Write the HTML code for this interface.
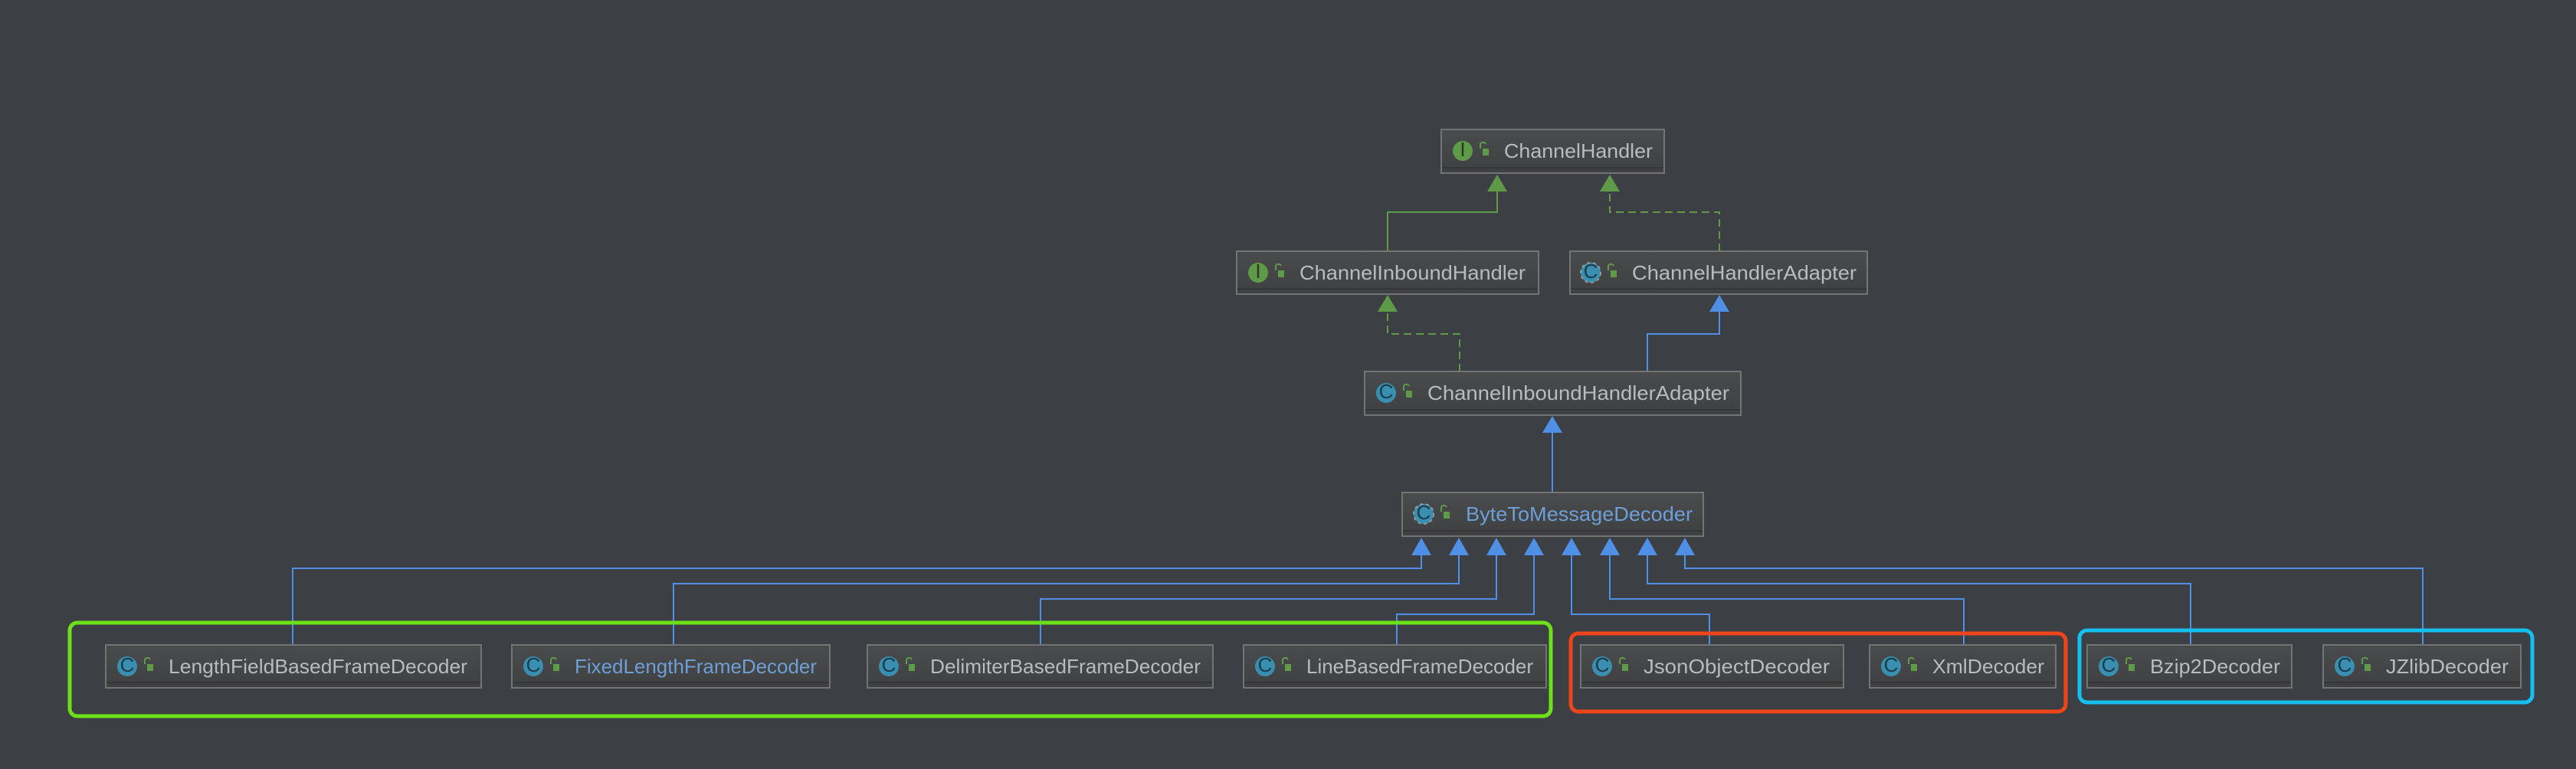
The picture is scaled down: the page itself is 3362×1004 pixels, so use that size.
<!DOCTYPE html>
<html><head><meta charset="utf-8"><style>
html,body{margin:0;padding:0;background:#3c3f43;}
svg{display:block}
text{font-family:"Liberation Sans",sans-serif;font-size:26px;}
</style></head><body>
<svg width="3362" height="1004" viewBox="0 0 3362 1004" xmlns="http://www.w3.org/2000/svg">
<defs>
<linearGradient id="bg" x1="0" y1="0" x2="0" y2="1">
<stop offset="0" stop-color="#4a4b4d"/><stop offset="1" stop-color="#3f4042"/>
</linearGradient>
</defs>
<rect width="3362" height="1004" fill="#3c3f43"/>

<!-- connectors green -->
<g fill="none" stroke="#5e9a48" stroke-width="2">
<polyline points="1811,328 1811,277 1954,277 1954,248"/>
<polyline points="2244,328 2244,277 2101,277 2101,248" stroke-dasharray="10,6"/>
<polyline points="1905,485 1905,436 1811,436 1811,406" stroke-dasharray="10,6"/>
</g>
<g fill="#5e9a48">
<polygon points="1954,228 1941,250 1967,250"/>
<polygon points="2101,228 2088,250 2114,250"/>
<polygon points="1811,385 1798,407 1824,407"/>
</g>
<!-- blue connectors -->
<g fill="none" stroke="#4f8fe6" stroke-width="2">
<polyline points="2150,485 2150,436 2244,436 2244,406"/>
<polyline points="2026,643 2026,564"/>
<polyline points="382,842 382,742 1855,742 1855,724"/>
<polyline points="879,842 879,762 1904,762 1904,724"/>
<polyline points="1358,842 1358,782 1953,782 1953,724"/>
<polyline points="1823,842 1823,802 2002,802 2002,724"/>
<polyline points="2231,842 2231,802 2051,802 2051,724"/>
<polyline points="2563,842 2563,782 2101,782 2101,724"/>
<polyline points="2859,842 2859,762 2150,762 2150,724"/>
<polyline points="3162,842 3162,742 2199,742 2199,724"/>
</g>
<g fill="#4f8fe6">
<polygon points="2244,385 2231,407 2257,407"/>
<polygon points="2026,543 2013,565 2039,565"/>
<polygon points="1855,702 1842,725 1868,725"/>
<polygon points="1904,702 1891,725 1917,725"/>
<polygon points="1953,702 1940,725 1966,725"/>
<polygon points="2002,702 1989,725 2015,725"/>
<polygon points="2051,702 2038,725 2064,725"/>
<polygon points="2101,702 2088,725 2114,725"/>
<polygon points="2150,702 2137,725 2163,725"/>
<polygon points="2199,702 2186,725 2212,725"/>
</g>

<!-- group outlines -->
<rect x="91" y="813" width="1933" height="122" rx="10" fill="none" stroke="#6ce01a" stroke-width="5"/>
<rect x="2050" y="827" width="646" height="102" rx="10" fill="none" stroke="#f0441a" stroke-width="5"/>
<rect x="2714" y="823" width="591" height="94" rx="10" fill="none" stroke="#15c0f0" stroke-width="5"/>

<!-- boxes -->
<g id="boxes">
<!-- helper pattern repeated -->
<g>
<rect x="1881" y="169" width="291" height="57" fill="url(#bg)" stroke="#747474" stroke-width="2"/>
<line x1="1882" y1="219" x2="2171" y2="219" stroke="#353638" stroke-width="2"/>
<circle cx="1909" cy="197" r="13" fill="#5e9a48"/><text x="1909" y="204" text-anchor="middle" font-size="18" fill="#2b3a22" font-family="Liberation Serif">I</text>
<rect x="1935" y="194" width="8" height="9" fill="#5e9a48"/><path d="M1932,194 v-6 a4,4 0 0 1 7,0" stroke="#5e9a48" stroke-width="2" fill="none"/>
<text x="1963" y="206" fill="#bbbbbb" textLength="194" lengthAdjust="spacingAndGlyphs">ChannelHandler</text>
</g>
<g>
<rect x="1614" y="328" width="394" height="56" fill="url(#bg)" stroke="#747474" stroke-width="2"/>
<line x1="1615" y1="377" x2="2007" y2="377" stroke="#353638" stroke-width="2"/>
<circle cx="1642" cy="356" r="13" fill="#5e9a48"/><text x="1642" y="363" text-anchor="middle" font-size="18" fill="#2b3a22" font-family="Liberation Serif">I</text>
<rect x="1668" y="353" width="8" height="9" fill="#5e9a48"/><path d="M1665,353 v-6 a4,4 0 0 1 7,0" stroke="#5e9a48" stroke-width="2" fill="none"/>
<text x="1696" y="365" fill="#bbbbbb" textLength="295" lengthAdjust="spacingAndGlyphs">ChannelInboundHandler</text>
</g>
<g>
<rect x="2049" y="328" width="388" height="56" fill="url(#bg)" stroke="#747474" stroke-width="2"/>
<line x1="2050" y1="377" x2="2436" y2="377" stroke="#353638" stroke-width="2"/>
<circle cx="2076" cy="356" r="13" fill="#3a8fb0" stroke="#999" stroke-width="2" stroke-dasharray="4,4"/><text x="2076" y="363" text-anchor="middle" font-size="18" fill="#1b3b4a">C</text>
<rect x="2102" y="353" width="8" height="9" fill="#5e9a48"/><path d="M2099,353 v-6 a4,4 0 0 1 7,0" stroke="#5e9a48" stroke-width="2" fill="none"/>
<text x="2130" y="365" fill="#bbbbbb" textLength="293" lengthAdjust="spacingAndGlyphs">ChannelHandlerAdapter</text>
</g>
<g>
<rect x="1781" y="485" width="491" height="57" fill="url(#bg)" stroke="#747474" stroke-width="2"/>
<line x1="1782" y1="535" x2="2271" y2="535" stroke="#353638" stroke-width="2"/>
<circle cx="1809" cy="513" r="13" fill="#3a8fb0"/><text x="1809" y="520" text-anchor="middle" font-size="18" fill="#1b3b4a">C</text>
<rect x="1835" y="510" width="8" height="9" fill="#5e9a48"/><path d="M1832,510 v-6 a4,4 0 0 1 7,0" stroke="#5e9a48" stroke-width="2" fill="none"/>
<text x="1863" y="522" fill="#bbbbbb" textLength="394" lengthAdjust="spacingAndGlyphs">ChannelInboundHandlerAdapter</text>
</g>
<g>
<rect x="1830" y="643" width="393" height="57" fill="url(#bg)" stroke="#747474" stroke-width="2"/>
<line x1="1831" y1="693" x2="2222" y2="693" stroke="#353638" stroke-width="2"/>
<circle cx="1858" cy="671" r="13" fill="#3a8fb0" stroke="#999" stroke-width="2" stroke-dasharray="4,4"/><text x="1858" y="678" text-anchor="middle" font-size="18" fill="#1b3b4a">C</text>
<rect x="1884" y="668" width="8" height="9" fill="#5e9a48"/><path d="M1881,668 v-6 a4,4 0 0 1 7,0" stroke="#5e9a48" stroke-width="2" fill="none"/>
<text x="1913" y="680" fill="#6d9fd6" textLength="296" lengthAdjust="spacingAndGlyphs">ByteToMessageDecoder</text>
</g>
</g>

<!-- bottom row -->
<g>
<rect x="138" y="842" width="490" height="56" fill="url(#bg)" stroke="#747474" stroke-width="2"/><line x1="139" y1="891" x2="627" y2="891" stroke="#353638" stroke-width="2"/>
<circle cx="166" cy="870" r="13" fill="#3a8fb0"/><text x="166" y="877" text-anchor="middle" font-size="18" fill="#1b3b4a">C</text>
<rect x="192" y="867" width="8" height="9" fill="#5e9a48"/><path d="M189,867 v-6 a4,4 0 0 1 7,0" stroke="#5e9a48" stroke-width="2" fill="none"/>
<text x="220" y="879" fill="#bbbbbb" textLength="390" lengthAdjust="spacingAndGlyphs">LengthFieldBasedFrameDecoder</text>

<rect x="668" y="842" width="415" height="56" fill="url(#bg)" stroke="#747474" stroke-width="2"/><line x1="669" y1="891" x2="1082" y2="891" stroke="#353638" stroke-width="2"/>
<circle cx="696" cy="870" r="13" fill="#3a8fb0"/><text x="696" y="877" text-anchor="middle" font-size="18" fill="#1b3b4a">C</text>
<rect x="722" y="867" width="8" height="9" fill="#5e9a48"/><path d="M719,867 v-6 a4,4 0 0 1 7,0" stroke="#5e9a48" stroke-width="2" fill="none"/>
<text x="750" y="879" fill="#6d9fd6" textLength="316" lengthAdjust="spacingAndGlyphs">FixedLengthFrameDecoder</text>

<rect x="1132" y="842" width="451" height="56" fill="url(#bg)" stroke="#747474" stroke-width="2"/><line x1="1133" y1="891" x2="1582" y2="891" stroke="#353638" stroke-width="2"/>
<circle cx="1160" cy="870" r="13" fill="#3a8fb0"/><text x="1160" y="877" text-anchor="middle" font-size="18" fill="#1b3b4a">C</text>
<rect x="1186" y="867" width="8" height="9" fill="#5e9a48"/><path d="M1183,867 v-6 a4,4 0 0 1 7,0" stroke="#5e9a48" stroke-width="2" fill="none"/>
<text x="1214" y="879" fill="#bbbbbb" textLength="353" lengthAdjust="spacingAndGlyphs">DelimiterBasedFrameDecoder</text>

<rect x="1623" y="842" width="395" height="56" fill="url(#bg)" stroke="#747474" stroke-width="2"/><line x1="1624" y1="891" x2="2017" y2="891" stroke="#353638" stroke-width="2"/>
<circle cx="1651" cy="870" r="13" fill="#3a8fb0"/><text x="1651" y="877" text-anchor="middle" font-size="18" fill="#1b3b4a">C</text>
<rect x="1677" y="867" width="8" height="9" fill="#5e9a48"/><path d="M1674,867 v-6 a4,4 0 0 1 7,0" stroke="#5e9a48" stroke-width="2" fill="none"/>
<text x="1705" y="879" fill="#bbbbbb" textLength="296" lengthAdjust="spacingAndGlyphs">LineBasedFrameDecoder</text>

<rect x="2063" y="842" width="343" height="56" fill="url(#bg)" stroke="#747474" stroke-width="2"/><line x1="2064" y1="891" x2="2405" y2="891" stroke="#353638" stroke-width="2"/>
<circle cx="2091" cy="870" r="13" fill="#3a8fb0"/><text x="2091" y="877" text-anchor="middle" font-size="18" fill="#1b3b4a">C</text>
<rect x="2117" y="867" width="8" height="9" fill="#5e9a48"/><path d="M2114,867 v-6 a4,4 0 0 1 7,0" stroke="#5e9a48" stroke-width="2" fill="none"/>
<text x="2145" y="879" fill="#bbbbbb" textLength="243" lengthAdjust="spacingAndGlyphs">JsonObjectDecoder</text>

<rect x="2440" y="842" width="243" height="56" fill="url(#bg)" stroke="#747474" stroke-width="2"/><line x1="2441" y1="891" x2="2682" y2="891" stroke="#353638" stroke-width="2"/>
<circle cx="2468" cy="870" r="13" fill="#3a8fb0"/><text x="2468" y="877" text-anchor="middle" font-size="18" fill="#1b3b4a">C</text>
<rect x="2494" y="867" width="8" height="9" fill="#5e9a48"/><path d="M2491,867 v-6 a4,4 0 0 1 7,0" stroke="#5e9a48" stroke-width="2" fill="none"/>
<text x="2522" y="879" fill="#bbbbbb" textLength="146" lengthAdjust="spacingAndGlyphs">XmlDecoder</text>

<rect x="2724" y="842" width="267" height="56" fill="url(#bg)" stroke="#747474" stroke-width="2"/><line x1="2725" y1="891" x2="2990" y2="891" stroke="#353638" stroke-width="2"/>
<circle cx="2752" cy="870" r="13" fill="#3a8fb0"/><text x="2752" y="877" text-anchor="middle" font-size="18" fill="#1b3b4a">C</text>
<rect x="2778" y="867" width="8" height="9" fill="#5e9a48"/><path d="M2775,867 v-6 a4,4 0 0 1 7,0" stroke="#5e9a48" stroke-width="2" fill="none"/>
<text x="2806" y="879" fill="#bbbbbb" textLength="170" lengthAdjust="spacingAndGlyphs">Bzip2Decoder</text>

<rect x="3032" y="842" width="258" height="56" fill="url(#bg)" stroke="#747474" stroke-width="2"/><line x1="3033" y1="891" x2="3289" y2="891" stroke="#353638" stroke-width="2"/>
<circle cx="3060" cy="870" r="13" fill="#3a8fb0"/><text x="3060" y="877" text-anchor="middle" font-size="18" fill="#1b3b4a">C</text>
<rect x="3086" y="867" width="8" height="9" fill="#5e9a48"/><path d="M3083,867 v-6 a4,4 0 0 1 7,0" stroke="#5e9a48" stroke-width="2" fill="none"/>
<text x="3114" y="879" fill="#bbbbbb" textLength="160" lengthAdjust="spacingAndGlyphs">JZlibDecoder</text>
</g>
</svg>
</body></html>
